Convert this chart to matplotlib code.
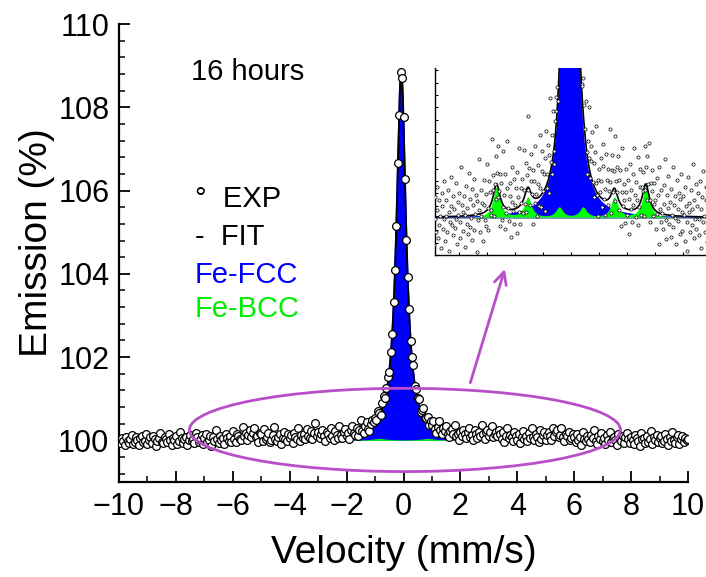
import numpy as np
import matplotlib
matplotlib.use('Agg')
import matplotlib.pyplot as plt
from matplotlib.patches import Ellipse
from matplotlib.ticker import MultipleLocator, NullFormatter

plt.rcParams['font.family'] = ['Liberation Sans', 'DejaVu Sans']

# ---------------- data ----------------
# residuals of the experimental points around the fit (in counts of residual_unit %)
residual_counts = [
    4, -3, 7, 1, -6, 9, 2, -2, 5, 12, -4, 0, 8, 3, -7, 6, 10, -1, 2, 14,
    -5, 3, 8, -2, 11, 4, -8, 1, 6, 15, 0, -3, 9, 5, -1, 13, 2, -6, 7, 3,
    10, -4, 1, 18, 6, -2, 4, 9, -7, 3, 12, 0, 5, -3, 16, 8, -1, 2, 11, -5,
    6, 14, -2, 3, 9, -9, 7, 1, 20, 4, -3, 10, 2, 6, -6, 13, 5, 0, 8, -2,
    17, 3, -4, 11, 7, 1, -1, 22, 5, 9, -5, 4, 12, -2, 6, 15, 0, 3, -7, 10,
    8, -3, 19, 2, 6, 13, -4, 1, 9, 24, 3, -1, 7, 11, -6, 5, 16, 2, -2, 12,
    4, 9, -5, 14, 6, 1, 21, -3, 8, 3, 10, -1, 18, 5, 0, 12, -4, 7, 25, 2,
    9, -2, 6, 15, 3, -6, 11, 8, 1, 19, 4, -3, 13, 7, 0, 22, 5, -1, 10, 16,
    3, 8, -4, 12, 20, 6, 1, 14, -2, 9, 26, 5, 0, 11, 17, 3, -3, 8, 13, 6,
    10, 2, 15, 7, -2, 12, 18, 4, 9, 14, 1, 11, 6, 16, 8, 3, 13, -3, 9, 5,
    12, 6, -4, 10, 15, 3, 8, 19, 1, 11, 6, 14, -2, 9, 17, 4, 7, 13, 0, 10,
    5, 16, 2, -3, 9, 21, 6, 1, 12, 8, 18, 3, -1, 10, 14, 5, 23, 2, 7, -4,
    11, 4, 15, 8, 0, 13, 20, 3, 6, -2, 17, 9, 1, 12, 5, 24, 7, -3, 10, 14,
    2, 8, 19, -1, 6, 11, 4, 16, 9, 0, 13, -4, 7, 21, 3, 10, 5, -2, 15, 8,
    1, 12, -5, 6, 17, 3, 9, -1, 14, 4, 22, 7, 0, 11, 5, -3, 18, 2, 8, 13,
    -2, 6, 10, 3, -6, 15, 1, 8, 12, -1, 5, 19, 2, -4, 9, 7, 14, 0, 4, 11,
    6, -3, 13, 2, 8, -7, 17, 4, 0, 10, 3, -2, 12, 6, 20, 1, -5, 9, 5, 15,
    0, 7, -4, 11, 3, 18, -1, 6, 9, 2, -6, 14, 5, 1, 10, -3, 8, 16, 4, -2,
    9, 3, -5, 12, 6, 1, -8, 15, 4, 7, -2, 11, 0, 5, 19, -4, 8, 2, 13, -1,
    6, 10, -3, 2, 14, 5, -7, 9, 1, 17, 3, -2, 8, 12, -5, 4, 11, 0, 7, 3,
    5,
]
residual_unit = 0.013      # % per count
residual_offset = -0.035   # %
velocity_range = [-10.0, 10.0]
baseline = 100.0

# Fe-FCC singlet (Lorentzian)
fcc_center = -0.08
fcc_fwhm = 0.40
fcc_amp = 8.85

# Fe-BCC sextet (Lorentzians)
bcc_centers = [-5.33, -3.09, -0.85, 0.85, 3.09, 5.33]
bcc_amps = [0.125, 0.083, 0.042, 0.042, 0.083, 0.125]
bcc_fwhm = 0.6

xticks = [-10, -8, -6, -4, -2, 0, 2, 4, 6, 8, 10]
yticks = [100, 102, 104, 106, 108, 110]
legend_labels = ['°  EXP', '-  FIT', 'Fe-FCC', 'Fe-BCC']

# ---------------- model ----------------
def lorentz(x, c, w, a):
    return a / (1.0 + ((x - c) / (w / 2.0)) ** 2)

v = np.linspace(velocity_range[0], velocity_range[1], len(residual_counts))
vf = np.linspace(velocity_range[0], velocity_range[1], 6001)

fcc_f = lorentz(vf, fcc_center, fcc_fwhm, fcc_amp)
bcc_f = sum(lorentz(vf, c, bcc_fwhm, a) for c, a in zip(bcc_centers, bcc_amps))
fit_f = baseline + fcc_f + bcc_f

fcc_p = lorentz(v, fcc_center, fcc_fwhm, fcc_amp)
bcc_p = sum(lorentz(v, c, bcc_fwhm, a) for c, a in zip(bcc_centers, bcc_amps))
exp_p = (baseline + fcc_p + bcc_p
         + np.array(residual_counts) * residual_unit + residual_offset)

BLUE = '#0000ff'
GREEN = '#00ff00'
MAGENTA = '#b84fc8'

W, H = 706, 577
fig = plt.figure(figsize=(W / 100, H / 100), dpi=100)

# ---------------- main axes ----------------
ax = fig.add_axes([119 / W, 1 - 482 / H, (688 - 119) / W, (482 - 24) / H])
ax.fill_between(vf, baseline, baseline + fcc_f, color=BLUE, lw=0, zorder=1)
ax.plot(vf, baseline + fcc_f, color=BLUE, lw=1.5, zorder=1.5)
ax.fill_between(vf, baseline, baseline + bcc_f, color=GREEN, lw=0, zorder=2)
ax.plot(vf, fit_f, color='black', lw=1.3, zorder=3)
ax.plot(v, exp_p, 'o', mfc='white', mec='black', ms=5.6, mew=0.9, zorder=4)

ax.set_xlim(-10, 10)
ax.set_ylim(99.0, 110)
ax.set_xticks(xticks)
ax.set_yticks(yticks)
ax.xaxis.set_minor_locator(MultipleLocator(1))
ax.yaxis.set_minor_locator(MultipleLocator(0.4))
for s in ['top', 'right']:
    ax.spines[s].set_visible(False)
for s in ['left', 'bottom']:
    ax.spines[s].set_linewidth(1.6)
ax.tick_params(which='major', direction='in', length=8, width=1.3, labelsize=22, pad=7)
ax.tick_params(which='minor', direction='in', length=4.5, width=1.1)

# highlight ellipse and arrow
ell = Ellipse((0.05, 100.25), 15.15, 2.0, fill=False, ec=MAGENTA, lw=2.0, zorder=5)
ax.add_patch(ell)
ax.annotate('', xy=(3.59, 104.18), xytext=(2.32, 101.32),
            arrowprops=dict(arrowstyle='->', color=MAGENTA, lw=2.0, mutation_scale=22),
            zorder=5)

fig.text(37 / W, 1 - 243 / H, 'Emission (%)', rotation=90, ha='center', va='center', fontsize=28)
fig.text(404 / W, 1 - 553 / H, 'Velocity (mm/s)', ha='center', va='center', fontsize=28)

fig.text(191 / W, 1 - 80 / H, '16 hours', ha='left', va='baseline', fontsize=21)
leg_colors = ['black', 'black', BLUE, '#00ee00']
leg_base = [207, 245, 283, 317]
for lab, col, yb in zip(legend_labels, leg_colors, leg_base):
    fig.text(195 / W, 1 - yb / H, lab, ha='left', va='baseline', fontsize=21, color=col)

# ---------------- inset ----------------
axin = fig.add_axes([435 / W, 1 - 255 / H, (W - 435) / W, (255 - 68) / H])
axin.fill_between(vf, baseline, baseline + fcc_f, color=BLUE, lw=0, zorder=1)
axin.fill_between(vf, baseline, baseline + bcc_f, color=GREEN, lw=0, zorder=2)
axin.plot(vf, np.full_like(vf, baseline), color='#7f8fb8', lw=1.0, zorder=2.5)
axin.plot(vf, fit_f, color='black', lw=1.2, zorder=3)
axin.plot(v, exp_p, 'o', mfc='white', mec='black', ms=2.3, mew=0.5, zorder=4)
axin.set_xlim(-9.72, 9.63)
axin.set_ylim(99.85, 100.61)
axin.xaxis.set_major_locator(MultipleLocator(2))
axin.yaxis.set_major_locator(MultipleLocator(0.05))
axin.xaxis.set_major_formatter(NullFormatter())
axin.yaxis.set_major_formatter(NullFormatter())
for s in ['top', 'right']:
    axin.spines[s].set_visible(False)
for s in ['left', 'bottom']:
    axin.spines[s].set_linewidth(1.0)
axin.tick_params(direction='in', length=2.5, width=0.8)

fig.savefig('out.png', dpi=100)
